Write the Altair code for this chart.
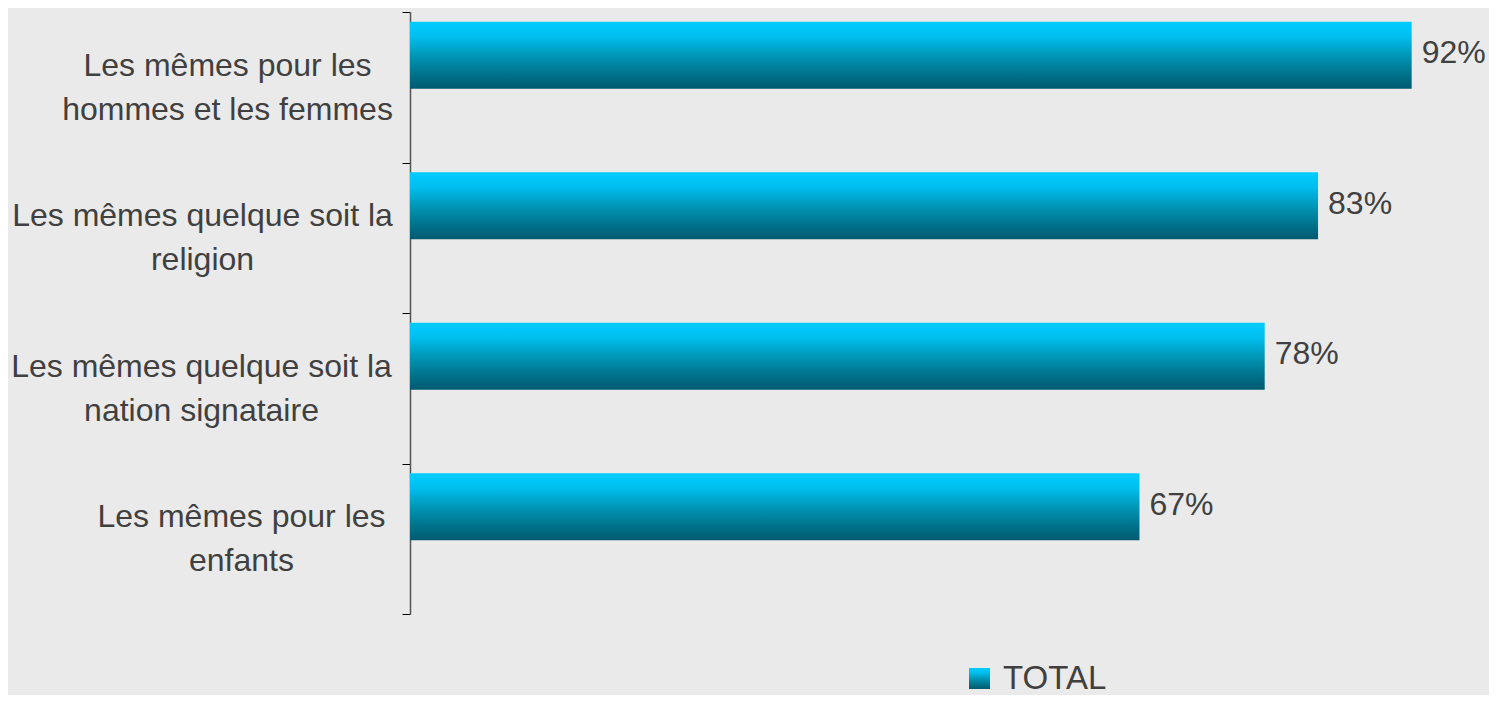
import json
import altair as alt
import pandas as pd

# ---- data ----
categories = [
    "Les mêmes pour les|hommes et les femmes",
    "Les mêmes quelque soit la|religion",
    "Les mêmes quelque soit la|nation signataire",
    "Les mêmes pour les|enfants",
]
values = [92.0, 83.4, 78.5, 67.0]
value_labels = ["92%", "83%", "78%", "67%"]
series = ["TOTAL", "TOTAL", "TOTAL", "TOTAL"]

df = pd.DataFrame({"cat": categories, "value": values, "label": value_labels, "series": series})

# ---- styling ----
FONT = "Liberation Sans"
TEXT = "#404040"
stops = [
    {"offset": 0.0, "color": "#00CCFF"},
    {"offset": 0.22, "color": "#00BFEF"},
    {"offset": 0.5, "color": "#0097B8"},
    {"offset": 0.78, "color": "#00738C"},
    {"offset": 1.0, "color": "#005A70"},
]
gradient = {"gradient": "linear", "x1": 0, "y1": 0, "x2": 0, "y2": 1, "stops": stops}
grad_expr = json.dumps(gradient)

# per-label padding so that each two-line label is centred on its own block
pad_conditions = [
    {"test": f"datum.value === '{categories[0]}'", "value": 175},
    {"test": f"datum.value === '{categories[1]}'", "value": 200},
    {"test": f"datum.value === '{categories[2]}'", "value": 201},
    {"test": f"datum.value === '{categories[3]}'", "value": 161},
]

y_enc = alt.Y(
    "cat:N",
    sort=categories,
    scale=alt.Scale(paddingInner=0, paddingOuter=0),
    axis=alt.Axis(
        title=None,
        labelExpr="split(datum.label, '|')",
        labelAlign="center",
        labelBaseline="middle",
        labelOffset=-22,
        labelPadding={"condition": pad_conditions, "value": 175},
        labelFont=FONT,
        labelFontSize=32,
        labelColor=TEXT,
        labelLineHeight=44,
        labelLimit=500,
        tickBand="extent",
        tickSize=8,
        tickColor="#000000",
        tickWidth=1,
        domainColor="#555555",
        domainWidth=1.5,
        grid=False,
    ),
)

x_enc = alt.X("value:Q", scale=alt.Scale(domain=[0, 98]), axis=None)

bars = alt.Chart(df).mark_bar(size=67, yOffset=-32).encode(
    x=x_enc,
    y=y_enc,
    color=alt.Color(
        "series:N",
        scale=alt.Scale(domain=["TOTAL"], range=[{"expr": grad_expr}]),
        legend=alt.Legend(
            title=None,
            orient="none",
            legendX=553,
            legendY=650,
            padding=0,
            symbolType="square",
            symbolSize=441,
            symbolStrokeWidth=0,
            labelFont=FONT,
            labelFontSize=33,
            labelColor=TEXT,
            labelOffset=7,
            labelLimit=300,
        ),
    ),
)

texts = alt.Chart(df).mark_text(
    align="left", baseline="middle", dx=10, dy=-34, fontSize=32, font=FONT, color=TEXT
).encode(x=x_enc, y=y_enc, text="label:N")

chart = (
    alt.layer(bars, texts)
    .properties(
        width=1067,
        height=602,
        padding={"left": 402, "top": 4, "right": 12, "bottom": 81},
        autosize="none",
        background="#EAEAEA",
    )
    .configure_view(stroke=None)
)

chart.save("out.html", embed_options={"renderer": "svg", "actions": False})
